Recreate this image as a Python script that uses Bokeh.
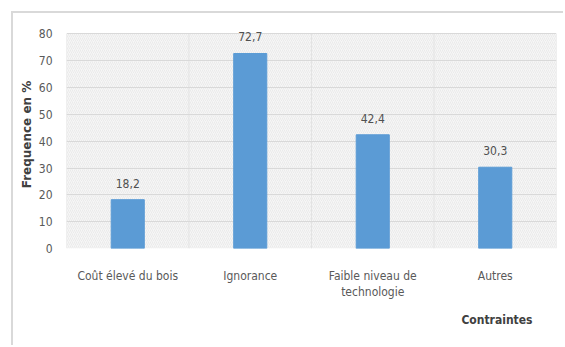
from bokeh.plotting import figure
from bokeh.models import FixedTicker, Title, Range1d, ColumnDataSource
from bokeh.embed import file_html
from bokeh.resources import INLINE
from bokeh.core.properties import value

categories = ["Coût élevé du bois", "Ignorance", "Faible niveau de\ntechnologie", "Autres"]
frequencies = [18.2, 72.7, 42.4, 30.3]
y_ticks = [0, 10, 20, 30, 40, 50, 60, 70, 80]
y_max = 80

narrow = "'DejaVu Sans Condensed', 'Liberation Sans', sans-serif"
n = len(categories)
positions = [i + 0.5 for i in range(n)]
labels = [f"{v:.1f}".replace(".", ",") for v in frequencies]
src = ColumnDataSource(dict(x=positions, y=frequencies, lab=labels))

# a little headroom above 80 so the tallest value label is not clipped
p = figure(width=552, height=334, output_backend="svg", toolbar_location=None,
           x_range=Range1d(0, n), y_range=Range1d(0, 85),
           min_border_left=53, min_border_right=9, min_border_top=7, min_border_bottom=99)
p.styles = {"margin-left": "11px", "margin-top": "11px",
            "border-top": "2px solid #d9d9d9", "border-left": "2px solid #d9d9d9"}

p.background_fill_color = "white"
p.border_fill_color = "white"
p.outline_line_color = None

# plot area: light grey with a fine diagonal texture, 0..80
p.quad(left=[0], right=[n], bottom=[0], top=[y_max], fill_color="#f6f6f6",
       line_color=None, hatch_pattern="/", hatch_color="#e2e2e2",
       hatch_scale=4, hatch_weight=0.6, level="underlay")
# vertical separators between categories
bounds = list(range(n + 1))
p.segment(x0=bounds, x1=bounds, y0=[0] * len(bounds), y1=[y_max] * len(bounds),
          line_color="#e3e3e3", line_width=1, level="underlay")

p.vbar(x="x", top="y", width=0.27, source=src, color="#5b9bd5")
p.text(x="x", y="y", text="lab", source=src, text_align="center",
       text_baseline="bottom", y_offset=-12, text_font=value(narrow),
       text_font_size="12px", text_color="#505050")

p.xgrid.grid_line_color = None
p.ygrid.ticker = FixedTicker(ticks=y_ticks)
p.ygrid.grid_line_color = "#d9d9d9"

p.xaxis.ticker = FixedTicker(ticks=positions)
p.xaxis.major_label_overrides = {pos: c for pos, c in zip(positions, categories)}
p.yaxis.ticker = FixedTicker(ticks=y_ticks)
for ax in (p.xaxis[0], p.yaxis[0]):
    ax.axis_line_color = None
    ax.major_tick_line_color = None
    ax.minor_tick_line_color = None
    ax.major_label_text_font = narrow
    ax.major_label_text_font_size = "12px"
    ax.major_label_text_color = "#595959"
p.xaxis.major_label_standoff = 14
p.yaxis.major_label_standoff = 8

p.yaxis.axis_label = "Frequence en %"
p.yaxis.axis_label_text_font = "DejaVu Sans"
p.yaxis.axis_label_text_font_style = "bold"
p.yaxis.axis_label_text_font_size = "12px"
p.yaxis.axis_label_text_color = "#404040"
p.yaxis.axis_label_standoff = 2

p.add_layout(Title(text="Contraintes", align="right", offset=24, standoff=16,
                   text_font=narrow, text_font_style="bold",
                   text_font_size="12px", text_color="#404040"), "below")

open("out.html", "w").write(file_html(p, INLINE))
